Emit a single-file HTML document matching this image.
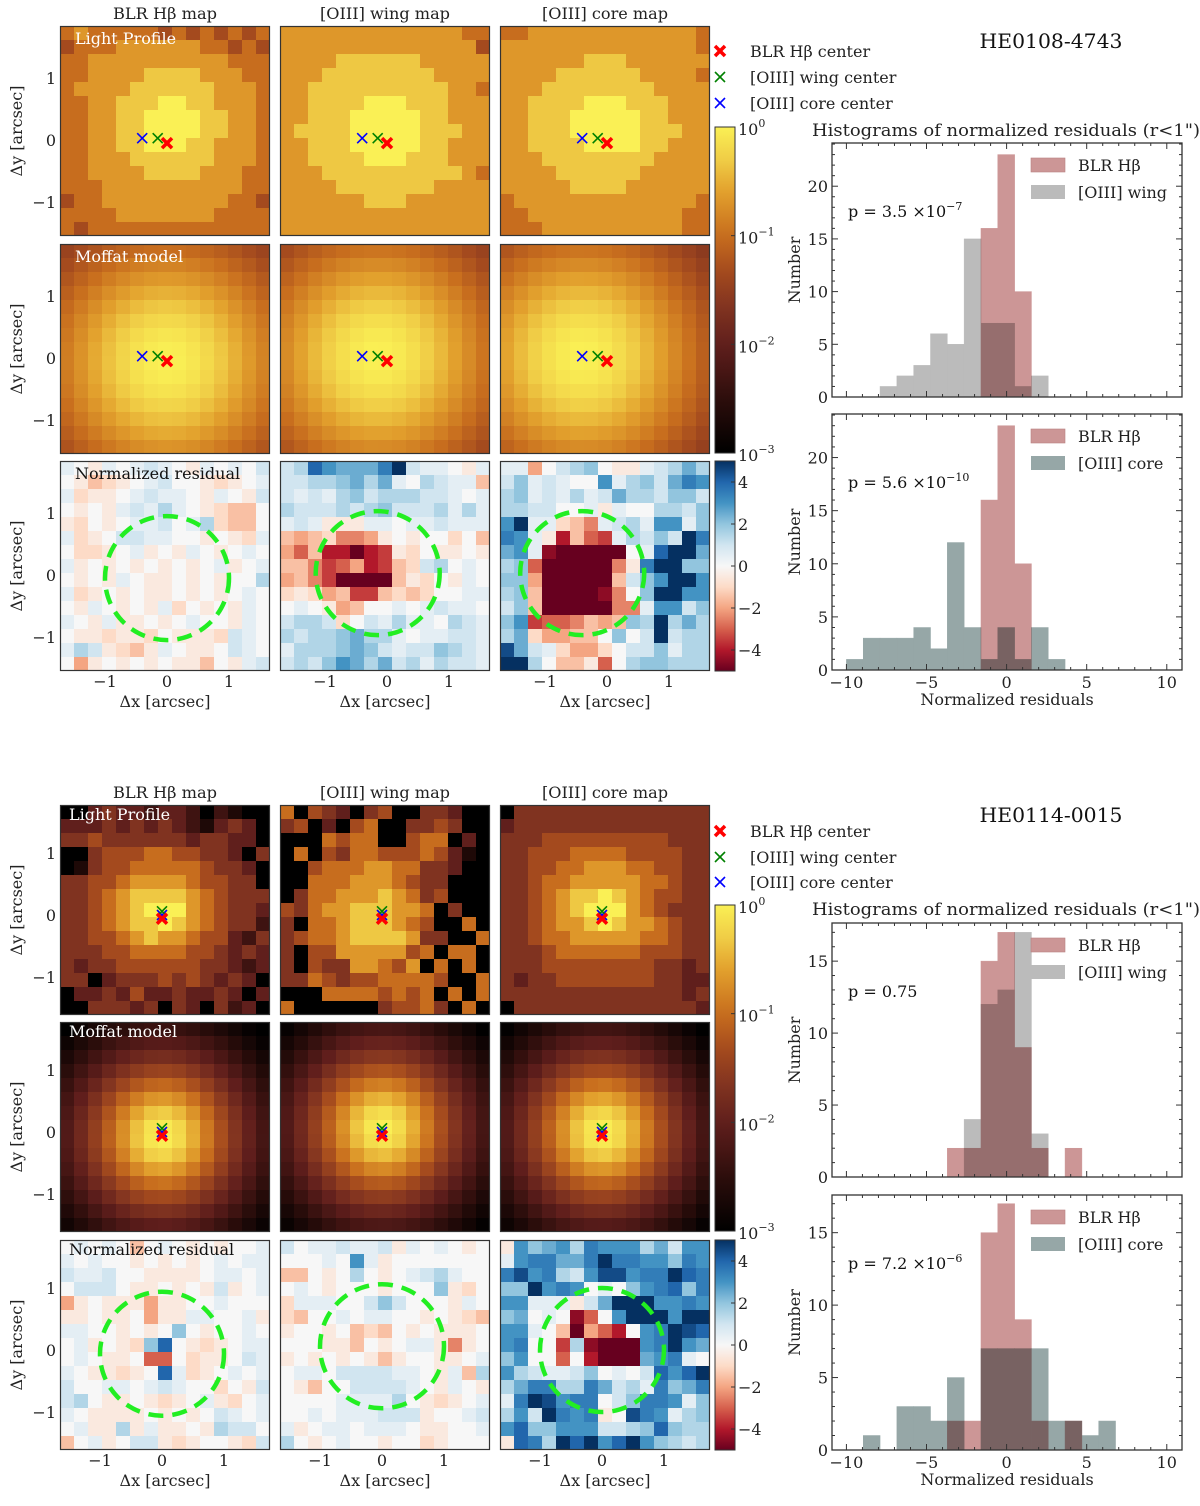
<!DOCTYPE html>
<html><head><meta charset="utf-8"><title>PSF residual maps</title>
<style>
html,body{margin:0;padding:0;background:#fff;}
svg{display:block;font-family:"DejaVu Serif","Liberation Serif",serif;}
</style></head>
<body>
<svg id="fig" xmlns="http://www.w3.org/2000/svg" width="1200" height="1506" viewBox="0 0 1200 1506">
<rect width="1200" height="1506" fill="#fff"/>
<defs id="defs"></defs>
</svg>
<script>
// ---------------- DATA ----------------
// Histogram bin edges (normalized residuals)
const binEdges = [-10.0,-8.95,-7.9,-6.85,-5.8,-4.75,-3.7,-2.65,-1.6,-0.55,0.5,1.55,2.6,3.65,4.7,5.75,6.8];
// HE0108-4743
const h1Blr  = [0,0,0,0,0,0,0,0,16,23,10,0,0,0,0,0];
const h1Wing = [0,0,1,2,3,6,5,15,7,7,1,2,0,0,0,0];
const h2Blr  = [0,0,0,0,0,0,0,0,16,23,10,0,0,0,0,0];
const h2Core = [1,3,3,3,4,2,12,4,1,4,1,4,1,0,0,0];
// HE0114-0015
const h3Blr  = [0,0,0,0,0,0,2,2,15,17,9,2,0,2,0,0];
const h3Wing = [0,0,0,0,0,0,0,4,12,13,17,3,0,0,0,0];
const h4Blr  = [0,0,0,0,0,0,2,2,15,17,9,2,0,2,0,0];
const h4Core = [0,1,0,3,3,2,5,0,7,7,7,7,2,2,1,2];
const pValues = ["3.5 ×10", "5.6 ×10", "0.75", "7.2 ×10"];
const pExps = ["−7", "−10", "", "−6"];
const histXTicks = [-10,-5,0,5,10];
const histYTicksTop = [0,5,10,15,20];
const histYTicksBot = [0,5,10,15];
const imgTicks = [-1,0,1];
const cbarLogTicks = [0,-1,-2,-3];
const cbarResTicks = [4,2,0,-2,-4];

// Centers (arcsec) [dx, dy]: BLR, wing, core
const centersTop = [[0,-0.05],[-0.15,0.03],[-0.4,0.03]];
const centersBot = [[0,-0.06],[0,0.06],[0,0.0]];

// Light profile maps: colour level digits 0..9 (log-scale fraction of colorbar)
const lightTop1 = ["676666656565656","566677777766565","667777777777666","667777888877766","677778888887776","667788899887776","667788999988776","667788999988776","667788999887776","667778888887776","667777888877766","666777777777766","566777777777665","666677777776666","656666666666666"];
const lightTop2 = ["777777777777766","777777777777775","777788888877777","777888888887777","778888888888776","778888999888777","778889999988777","788889999988877","778889999988777","778888999888777","777888888888876","777788888887777","777777888777777","777777777777777","777777777777777"];
const lightTop3 = ["667777777777776","777777777777776","777777888777777","777788888877776","777888888887777","778888999888777","778889999988777","778889999988877","778888999988777","777888888887777","777788888877777","777778888777777","677777777777776","667777777777766","666777777777766"];
const lightBot1 = ["003433233202100","333434343213430","445444444344330","004555665544304","014556666654430","445567777655440","445678888765444","445678999765443","445678898765442","445567877655324","444556666554343","434455555544323","440344454543430","033435334334303","004443404304230"];
const lightBot2 = ["605430450044300","450305600445400","000656600566030","060546655565310","005666776644300","006667776544000","046677787645000","546778887760400","406678887650060","456678888744006","405577777560660","405447765706060","446545566665006","000666656560606","600000045564060"];
const lightBot3 = ["044444444444444","344444444444444","444555555555444","445556666555544","445566777665544","445667777766544","445678898765544","445678999765444","445677898776544","445667777766544","444566666655544","444555555554434","434455555554433","444444444444434","044444444444443"];

// Residual maps: letters A..U => -5..5 step 0.5 (K = 0)
const resTop1 = ["LKJLKLMLKJLKLKM","KJHIJKLMKKJIJKL","LIJJKLMLLKJLKJM","KJKJLMLNLKJIHHK","JIKJKLLMKLNIHHK","LIJKMMLLKKJKJIL","KIIJKLJKJLKJKLK","LJKJKJKJKJKLJKL","KJKJLKJJKJKJKKN","LIJKJKJJKJKJKLK","KJLKJKJLIKJKJLK","LKJLJJKJKLKKJLK","KJJIJJIKJJJIMLK","LNMJIHJLKJJKMLK","KGJKJKJKJJHKJLM"];
const resTop2 = ["MNSQPPPRUMLLKJL","MMNNOPNPLKNMLLH","MLMLNOMNNNMMLKL","NMMMNMNOMMMNLNL","LMLJJJLLKLLMLLL","HGHIFFGJKJKKIKH","GEHCCACDJIKJJKJ","HHFDEGCDHIMNKLK","GHFDAAAAHJIKJLK","IJIGHDDHIHIKKLL","KLKJGHKKLKLMLLK","MNNMIKMLNLLKNML","NMNNOPNNLKLLMML","LNNNOPOMLMMONML","MNMOQPNPMNLNMML"];
const resTop3 = ["LLGKMNOKJJLMNPN","MOLMLKKQLNOMPRQ","NOLMLNLMPNNMOOM","NNMMKKLJLKKNNMO","QULLIHFLMNLQQLO","RQLJCHEDLNMOMUR","PQLBAAAAAKLSUUP","NOEAAAAAFJRUUOO","OOGAAAAAHMOQUUQ","NOHAAAABFKOUUQQ","MOHAAAAAFFLQQMO","OQDEEFHGHONUNPN","NPIGGHHKOKMUMNN","TPMLIGGIKMMOLNN","UUNKHHJEKNOONNN"];
const resBot1 = ["KLKLKHKLKJKJKKL","LKLKKJKJKJKLKLL","MLLMKKJJJJKLLKL","KMMMKJJKJKJMJKL","GJKJJJGJJKKLKKK","JJKJJKGJJLLKKLJ","LLKKJKJKOKJKKLK","KLJKJIOSKJIJKLL","KLKJJKEEKIJJKML","LKJJIJKSLIJKLKL","MKKLLKLMLKKIKJM","MNKJJKJIJKLJIKL","LKJJJJKJKJKMLKL","KLJJNJLJJKJNMMK","HKLJKMMJIJKKJIM"];
const resBot2 = ["MKLLMLLMJLKLKJK","KKKLKQLJKKKKKKK","HHKJKNKJKLMNLKK","KLKJKKKJKKKOJIK","ILLLKKMOMKKKJLK","IHKKLKLLKKJKJIH","JKKJKHIHKJKJJJK","KKKJJHKJKLLJFJK","JKJKJKJHJKKJJKL","KLLKMMMMLLKJLHN","KJHKKMMMMLKJLKJ","KKKKLLLLNKJIJKL","KKLKLLLMMMJKKLM","LJKLLKLLLKJJKKL","NKJKLKKJKKIJKKK"];
const resBot3 = ["JQOPQNRQQQNPMQQ","LQRRPPRURRQQORQ","RTQRNMQTTQRRUSR","OOUQRQKLKOQRSOR","QQLLLJMPUUUQQRQ","OPKLKBEKQUUUQUU","QQLKHAGECKQRUTS","QRKKDNBAAAQRUQP","OQKKEKCAAAPQRLK","QNMLLMOKLKMSQSU","NPRRNNRPMNLROPR","LRUTQRRKMORRQLO","NQMURQRJKTRQLNO","QSOOQQQMMNOSONN","JSRNUSUQSUQONMN"];

// Moffat model parameters [alpha arcsec, beta, log10 peak]
const moffatTop = [1.5, 2.6, 0];
const moffatBot = [0.7, 2.8, 0];

// ---------------- RENDER ----------------
const NS = "http://www.w3.org/2000/svg";
const svg = document.getElementById('fig');
const defs = document.getElementById('defs');
function mk(tag, attrs, parent){
  const e = document.createElementNS(NS, tag);
  for (const k in attrs) e.setAttribute(k, attrs[k]);
  (parent||svg).appendChild(e);
  return e;
}
function lerpStops(stops, t){
  t = Math.max(0, Math.min(1, t));
  for (let i=1;i<stops.length;i++){
    if (t <= stops[i][0]){
      const a = stops[i-1], b = stops[i];
      const u = (t-a[0])/(b[0]-a[0]);
      return 'rgb(' + [1,2,3].map(j => Math.round(a[j]+(b[j]-a[j])*u)).join(',') + ')';
    }
  }
  const l = stops[stops.length-1];
  return 'rgb('+l[1]+','+l[2]+','+l[3]+')';
}
const hotStops = [[0,0,0,0],[0.15,40,12,10],[0.33,95,30,28],[0.45,130,52,32],[0.56,165,75,30],[0.67,200,110,30],[0.8,226,160,45],[0.9,240,205,70],[1,250,240,85]];
const rdbuStops = [[0,103,0,31],[0.1,178,24,43],[0.2,214,96,77],[0.3,244,165,130],[0.4,253,219,199],[0.5,247,247,247],[0.6,209,229,240],[0.7,146,197,222],[0.8,67,147,195],[0.9,33,102,172],[1,5,48,97]];
const hot = f => lerpStops(hotStops, f);
const rdbu = v => lerpStops(rdbuStops, (v+5)/10);

const PX = 62;          // px per arcsec
const CELL = 14;        // px per image cell
const N = 15;
const cols = [60, 280, 500];
const panels = [
  {rows:[26,244,461], x0:107, y0:114, centers:centersTop, lights:[lightTop1,lightTop2,lightTop3], res:[resTop1,resTop2,resTop3], moffat:moffatTop, name:'HE0108-4743', titleY:48, legendY:[51,77,103], histTitleY:136, labelX:75, labelDy:[18,18,18]},
  {rows:[805,1022,1240], x0:102, y0:110, centers:centersBot, lights:[lightBot1,lightBot2,lightBot3], res:[resBot1,resBot2,resBot3], moffat:moffatBot, name:'HE0114-0015', titleY:822, legendY:[831,857,882], histTitleY:915, labelX:69, labelDy:[15,15,15]}
];
const colTitles = ['BLR Hβ map','[OIII] wing map','[OIII] core map'];
const colTitleW = [104, 130, 126];
const centerColors = ['#ff0000','#008000','#0000ff'];

let clipId = 0;
function clipRect(x,y,w,h){
  const id = 'c'+(clipId++);
  const cp = mk('clipPath',{id:id}, defs);
  mk('rect',{x:x,y:y,width:w,height:h}, cp);
  return 'url(#'+id+')';
}
function drawMarker(g, cx, cy, color, bold){
  const s = bold ? 5 : 5;
  const w = bold ? 3.5 : 1.6;
  mk('line',{x1:cx-s,y1:cy-s,x2:cx+s,y2:cy+s,stroke:color,'stroke-width':w}, g);
  mk('line',{x1:cx-s,y1:cy+s,x2:cx+s,y2:cy-s,stroke:color,'stroke-width':w}, g);
}

panels.forEach((P, pi) => {
  const pg = mk('g',{});
  
  
  // column titles
  cols.forEach((cx, ci) => {
    const t = mk('text',{x:cx+105, y:P.rows[0]-7, 'text-anchor':'middle','font-size':16, fill:'#222', textLength:colTitleW[ci], lengthAdjust:'spacingAndGlyphs'}, pg);
    t.textContent = colTitles[ci];
    
    
  });
  for (let r=0;r<3;r++){
    const top = P.rows[r];
    // y label + ticks
    const yl = mk('text',{x:0,y:0,'text-anchor':'middle','font-size':16,fill:'#222',transform:'translate(22,'+(top+105)+') rotate(-90)'}, pg);
    yl.textContent = 'Δy [arcsec]';
    
    
    imgTicks.forEach(tv => {
      const ty = top + P.y0 - tv*PX;
      const tt = mk('text',{x:56,y:ty+6,'text-anchor':'end','font-size':16,fill:'#222'}, pg);
      tt.textContent = tv < 0 ? '−'+Math.abs(tv) : String(tv);
      
      
    });
    for (let c=0;c<3;c++){
      const left = cols[c];
      const g = mk('g',{'clip-path':clipRect(left,top,210,210)}, pg);
      
      
      const [mx, my] = P.centers[c];
      for (let i=0;i<N;i++){
        for (let j=0;j<N;j++){
          let fill;
          if (r===0){
            fill = hot(parseInt(P.lights[c][i][j],10)/9);
          } else if (r===1){
            const xc = ((j+0.5)*CELL - P.x0)/PX - mx;
            const yc = (P.y0 - (i+0.5)*CELL)/PX - my;
            const rr = xc*xc + yc*yc;
            const a = P.moffat[0], b = P.moffat[1];
            const lg = P.moffat[2] - b*Math.log10(1 + rr/(a*a));
            fill = hot((lg+3)/3);
          } else {
            const v = (P.res[c][i].charCodeAt(j) - 75) * 0.5;
            fill = rdbu(v);
          }
          const cell = mk('rect',{x:left+j*CELL,y:top+i*CELL,width:CELL+0.5,height:CELL+0.5,fill:fill}, g);
        }
      }
      if (r===2){
        const ccx = left + P.x0 + mx*PX, ccy = top + P.y0 - my*PX;
        const circ = mk('circle',{cx:ccx,cy:ccy,r:PX,fill:'none',stroke:'#22ee22','stroke-width':4.5,'stroke-dasharray':'15 9'}, g);
        
        
      } else {
        // markers: blue, green, red(bold) order
        [2,1,0].forEach(k => {
          const [ux,uy] = P.centers[k];
          drawMarker(g, left + P.x0 + ux*PX, top + P.y0 - uy*PX, centerColors[k], k===0);
        });
      }
      mk('rect',{x:left+0.5,y:top+0.5,width:209,height:209,fill:'none',stroke:'#333','stroke-width':1.2}, pg);
      if (c===0){
        const lbl = ['Light Profile','Moffat model','Normalized residual'][r];
        const lt = mk('text',{x:P.labelX,y:top+P.labelDy[r],'font-size':16,fill:r===2?'#111':'#fff'}, pg);
        lt.textContent = lbl;
        
        
      }
      if (r===2){
        imgTicks.forEach(tv => {
          const tx = left + P.x0 + tv*PX;
          const tt = mk('text',{x:tx,y:top+226,'text-anchor':'middle','font-size':16,fill:'#222'}, pg);
          tt.textContent = tv < 0 ? '−'+Math.abs(tv) : String(tv);
          
          
        });
        const xl = mk('text',{x:left+105,y:top+246,'text-anchor':'middle','font-size':16,fill:'#222'}, pg);
        xl.textContent = 'Δx [arcsec]';
        
        
      }
    }
  }
  // colorbars
  const logTop = P.rows[1] - 117, logBot = P.rows[1] + 209;
  const gid = 'gl'+pi, rid = 'gr'+pi;
  const lg = mk('linearGradient',{id:gid,x1:0,y1:1,x2:0,y2:0}, defs);
  for (let k=0;k<=20;k++) mk('stop',{offset:k/20,'stop-color':hot(k/20)}, lg);
  const rg = mk('linearGradient',{id:rid,x1:0,y1:1,x2:0,y2:0}, defs);
  for (let k=0;k<=20;k++) mk('stop',{offset:k/20,'stop-color':rdbu(-5+k/2)}, rg);
  const cb1 = mk('rect',{x:715,y:logTop,width:20,height:logBot-logTop,fill:'url(#'+gid+')',stroke:'#333','stroke-width':1}, pg);
  
  
  cbarLogTicks.forEach(e => {
    const ty = logTop + (-e/3)*(logBot-logTop);
    mk('line',{x1:731,x2:735,y1:ty,y2:ty,stroke:'#333'}, pg);
    const t = mk('text',{x:738,y:ty+8,'font-size':16,fill:'#222'}, pg);
    t.textContent = '10';
    const s = mk('tspan',{dy:-8,'font-size':11}, t);
    s.textContent = e===0 ? '0' : '−'+Math.abs(e);
    
    
  });
  const resTop = P.rows[2], resBotY = P.rows[2]+210;
  const cb2 = mk('rect',{x:715,y:resTop,width:20,height:210,fill:'url(#'+rid+')',stroke:'#333','stroke-width':1}, pg);
  
  
  cbarResTicks.forEach(v => {
    const ty = resTop + (5-v)/10*210;
    mk('line',{x1:731,x2:735,y1:ty,y2:ty,stroke:'#333'}, pg);
    const t = mk('text',{x:738,y:ty+6,'font-size':16,fill:'#222'}, pg);
    t.textContent = v<0 ? '−'+Math.abs(v) : String(v);
    
    
  });
  // legend of centers
  ['BLR Hβ center','[OIII] wing center','[OIII] core center'].forEach((lab,k) => {
    const ly = P.legendY[k];
    drawMarker(pg, 720, ly, centerColors[k], k===0);
    const t = mk('text',{x:750,y:ly+6,'font-size':16,fill:'#222'}, pg);
    t.textContent = lab;
    
    
  });
  const tt = mk('text',{x:1051,y:P.titleY,'text-anchor':'middle','font-size':20,fill:'#111',textLength:143,lengthAdjust:'spacingAndGlyphs'}, pg);
  tt.textContent = P.name;
  
  
  const ht = mk('text',{x:812,y:P.histTitleY,'font-size':17,fill:'#222',textLength:388,lengthAdjust:'spacingAndGlyphs'}, pg);
  ht.textContent = 'Histograms of normalized residuals (r<1")';
  
  
});

// ---------------- HISTOGRAMS ----------------
const HX0 = 832, HX1 = 1182, XMIN = -10.9, XMAX = 10.95;
const hx = v => HX0 + (v - XMIN)/(XMAX - XMIN)*(HX1 - HX0);
const hists = [
  {top:143, bot:397, ymax:24.1, a:h1Blr, b:h1Wing, bcol:'#bbbbbb', blab:'[OIII] wing', p:0, yt:histYTicksTop, xlab:false},
  {top:414, bot:670, ymax:24.1, a:h2Blr, b:h2Core, bcol:'#96a7a7', blab:'[OIII] core', p:1, yt:histYTicksTop, xlab:true},
  {top:923, bot:1177, ymax:17.65, a:h3Blr, b:h3Wing, bcol:'#bbbbbb', blab:'[OIII] wing', p:2, yt:histYTicksBot, xlab:false},
  {top:1195, bot:1450, ymax:17.6, a:h4Blr, b:h4Core, bcol:'#96a7a7', blab:'[OIII] core', p:3, yt:histYTicksBot, xlab:true}
];
hists.forEach((H, hi) => {
  const g = mk('g',{});
  
  
  const hy = v => H.bot - v/H.ymax*(H.bot - H.top);
  const drawSeries = (arr, color, nm) => {
    const sg = mk('g',{style:'mix-blend-mode:multiply'}, g);
    arr.forEach((cnt, i) => {
      if (!cnt) return;
      const x1 = hx(binEdges[i]), x2 = hx(binEdges[i+1]);
      const bar = mk('rect',{x:x1,y:hy(cnt),width:x2-x1,height:hy(0)-hy(cnt),fill:color,stroke:color,'stroke-width':0.5}, sg);
      
      
    });
  };
  drawSeries(H.b, H.bcol, 'bar-oiii');
  drawSeries(H.a, '#cc9696', 'bar-blr-hbeta');
  // frame
  mk('rect',{x:HX0,y:H.top,width:HX1-HX0,height:H.bot-H.top,fill:'none',stroke:'#333','stroke-width':1.3}, g);
  // x ticks
  for (let v=-10; v<=10; v++){
    const x = hx(v), major = v%5===0, L = major?6:3;
    mk('line',{x1:x,x2:x,y1:H.bot,y2:H.bot-L,stroke:'#333'}, g);
    mk('line',{x1:x,x2:x,y1:H.top,y2:H.top+L,stroke:'#333'}, g);
  }
  if (H.xlab){
    histXTicks.forEach(v => {
      const t = mk('text',{x:hx(v),y:H.bot+18,'text-anchor':'middle','font-size':16,fill:'#222'}, g);
      t.textContent = v<0 ? '−'+Math.abs(v) : String(v);
      
      
    });
    const xl = mk('text',{x:1007,y:H.bot+35,'text-anchor':'middle','font-size':16,fill:'#222'}, g);
    xl.textContent = 'Normalized residuals';
    
    
  }
  for (let v=0; v<=Math.floor(H.ymax); v++){
    const y = hy(v), major = v%5===0, L = major?6:3;
    mk('line',{x1:HX0,x2:HX0+L,y1:y,y2:y,stroke:'#333'}, g);
    mk('line',{x1:HX1,x2:HX1-L,y1:y,y2:y,stroke:'#333'}, g);
  }
  H.yt.forEach(v => {
    const t = mk('text',{x:828,y:hy(v)+6,'text-anchor':'end','font-size':16,fill:'#222'}, g);
    t.textContent = String(v);
    
    
  });
  const yl = mk('text',{x:0,y:0,'text-anchor':'middle','font-size':16,fill:'#222',transform:'translate(800,'+((H.top+H.bot)/2)+') rotate(-90)'}, g);
  yl.textContent = 'Number';
  
  
  // legend
  const ly = H.top + 22;
  const lp1 = mk('rect',{x:1031,y:ly-7,width:34,height:14,fill:'#cc9696',stroke:'#b88080','stroke-width':0.6}, g);
  
  
  const lt1 = mk('text',{x:1078,y:ly+6,'font-size':16,fill:'#222'}, g);
  lt1.textContent = 'BLR Hβ';
  
  
  const lp2 = mk('rect',{x:1031,y:ly+20,width:34,height:14,fill:H.bcol}, g);
  
  
  const lt2 = mk('text',{x:1078,y:ly+33,'font-size':16,fill:'#222'}, g);
  lt2.textContent = H.blab;
  
  
  // p value
  const pt = mk('text',{x:848,y:H.top+74,'font-size':16,fill:'#111'}, g);
  pt.textContent = 'p = ' + pValues[H.p];
  if (pExps[H.p]){
    const s = mk('tspan',{dy:-7,'font-size':11}, pt);
    s.textContent = pExps[H.p];
  }
  
  
});
</script>
</body></html>
